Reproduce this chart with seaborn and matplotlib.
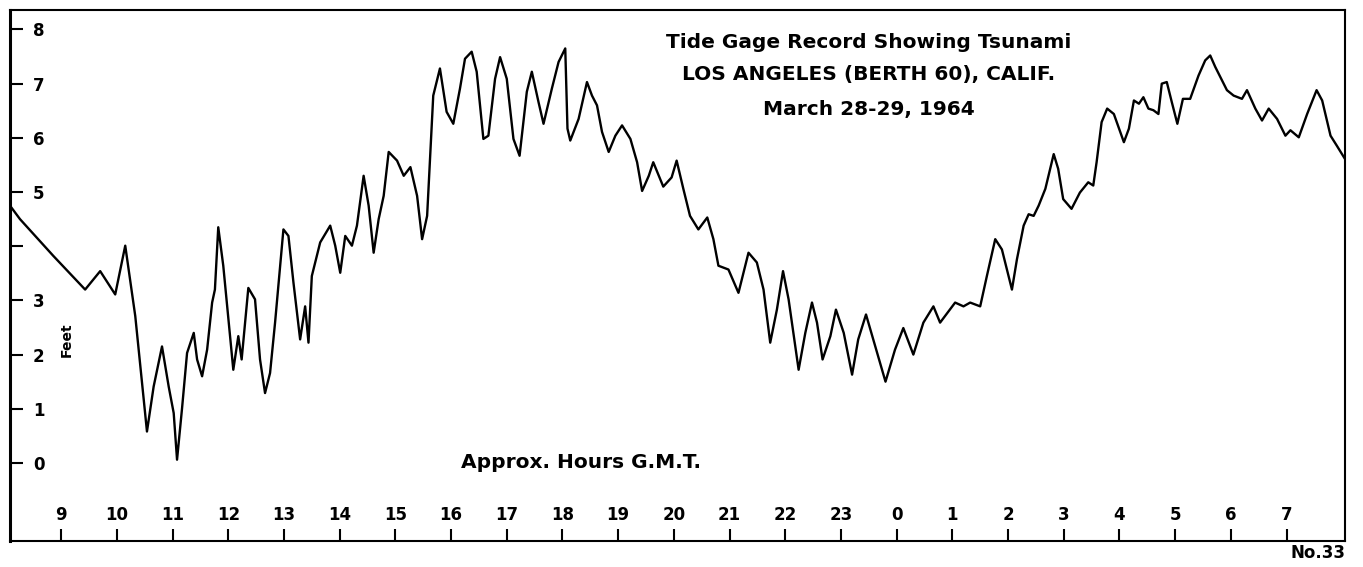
import matplotlib
matplotlib.use("Agg")
import matplotlib.pyplot as plt
import seaborn as sns
import pandas as pd

# Time in hours since 0h GMT, March 28 1964 (24+ = March 29)
hours = [8.08, 8.26, 8.86, 9.43, 9.70, 9.97, 10.15, 10.33, 10.54, 10.66, 10.81, 10.93,
         11.02, 11.08, 11.17, 11.26, 11.38, 11.44, 11.53, 11.62, 11.71, 11.76, 11.82, 11.91,
         12.09, 12.18, 12.24, 12.36, 12.48, 12.57, 12.66, 12.75, 12.84, 12.99, 13.08, 13.17,
         13.29, 13.38, 13.44, 13.50, 13.65, 13.83, 13.92, 14.01, 14.10, 14.22, 14.31, 14.43,
         14.52, 14.61, 14.70, 14.79, 14.88, 15.03, 15.15, 15.27, 15.39, 15.48, 15.57, 15.68,
         15.80, 15.92, 16.04, 16.16, 16.25, 16.37, 16.46, 16.58, 16.67, 16.79, 16.88, 17.00,
         17.12, 17.23, 17.36, 17.45, 17.57, 17.66, 17.81, 17.93, 18.05, 18.09, 18.14, 18.29,
         18.44, 18.53, 18.62, 18.71, 18.83, 18.95, 19.07, 19.22, 19.34, 19.43, 19.55, 19.63,
         19.81, 19.96, 20.05, 20.17, 20.29, 20.44, 20.60, 20.71, 20.80, 20.98, 21.16, 21.34,
         21.49, 21.61, 21.73, 21.85, 21.96, 22.06, 22.24, 22.36, 22.48, 22.57, 22.67, 22.81,
         22.91, 23.05, 23.20, 23.31, 23.45, 23.58, 23.80, 23.97, 24.12, 24.30, 24.48, 24.66,
         24.78, 25.05, 25.20, 25.32, 25.50, 25.62, 25.77, 25.89, 26.07, 26.16, 26.28, 26.37,
         26.46, 26.55, 26.67, 26.82, 26.90, 26.99, 27.14, 27.29, 27.44, 27.53, 27.59, 27.68,
         27.78, 27.90, 28.08, 28.17, 28.26, 28.35, 28.43, 28.52, 28.61, 28.70, 28.76, 28.85,
         28.94, 29.04, 29.14, 29.27, 29.42, 29.54, 29.63, 29.72, 29.93, 30.05, 30.20, 30.29,
         30.44, 30.56, 30.68, 30.83, 30.98, 31.07, 31.22, 31.37, 31.54, 31.64, 31.79, 31.90,
         32.05]

feet = [4.75, 4.50, 3.82, 3.20, 3.54, 3.11, 4.01, 2.71, 0.58, 1.41, 2.15, 1.41,
        0.92, 0.06, 1.01, 2.03, 2.40, 1.91, 1.60, 2.09, 2.96, 3.20, 4.35, 3.64,
        1.72, 2.34, 1.91, 3.23, 3.02, 1.91, 1.29, 1.66, 2.59, 4.31, 4.19, 3.33,
        2.28, 2.89, 2.22, 3.45, 4.07, 4.38, 4.01, 3.51, 4.19, 4.01, 4.38, 5.30,
        4.75, 3.88, 4.50, 4.93, 5.74, 5.58, 5.30, 5.46, 4.93, 4.13, 4.56, 6.78,
        7.28, 6.48, 6.26, 6.91, 7.46, 7.59, 7.22, 5.98, 6.04, 7.09, 7.49, 7.09,
        5.98, 5.67, 6.85, 7.22, 6.66, 6.26, 6.91, 7.40, 7.65, 6.17, 5.95, 6.35,
        7.03, 6.78, 6.60, 6.11, 5.74, 6.04, 6.23, 5.98, 5.55, 5.02, 5.30, 5.55,
        5.10, 5.27, 5.58, 5.06, 4.56, 4.31, 4.53, 4.13, 3.64, 3.57, 3.14, 3.88,
        3.70, 3.20, 2.22, 2.83, 3.54, 3.02, 1.72, 2.40, 2.96, 2.59, 1.91, 2.34,
        2.83, 2.40, 1.63, 2.28, 2.74, 2.28, 1.50, 2.09, 2.49, 2.00, 2.59, 2.89,
        2.59, 2.96, 2.89, 2.96, 2.89, 3.45, 4.13, 3.94, 3.20, 3.76, 4.38, 4.59,
        4.56, 4.75, 5.06, 5.70, 5.43, 4.87, 4.69, 4.99, 5.18, 5.12, 5.55, 6.29,
        6.54, 6.44, 5.92, 6.17, 6.69, 6.63, 6.75, 6.54, 6.51, 6.44, 7.00, 7.03,
        6.66, 6.26, 6.72, 6.72, 7.15, 7.43, 7.52, 7.31, 6.88, 6.78, 6.72, 6.88,
        6.54, 6.32, 6.54, 6.35, 6.04, 6.14, 6.01, 6.44, 6.88, 6.69, 6.04, 5.86,
        5.61]

xtick_pos = list(range(9, 32))
xtick_labels = ["9", "10", "11", "12", "13", "14", "15", "16", "17", "18", "19", "20",
                "21", "22", "23", "0", "1", "2", "3", "4", "5", "6", "7"]
ytick_pos = [0, 1, 2, 3, 4, 5, 6, 7, 8]
ytick_labels = ["0", "1", "2", "3", "", "5", "6", "7", "8"]

title_lines = ["Tide Gage Record Showing Tsunami",
               "LOS ANGELES (BERTH 60), CALIF.",
               "March 28-29, 1964"]

sns.set_style("white")
plt.rcParams["font.family"] = ["DejaVu Sans"]

df = pd.DataFrame({"hour": hours, "feet": feet})

fig = plt.figure(figsize=(13.63, 5.67), dpi=100)
ax = fig.add_axes([0.0073, 0.0459, 0.9795, 0.9365])

sns.lineplot(data=df, x="hour", y="feet", sort=False, estimator=None,
             color="black", linewidth=1.7, ax=ax)

ax.set_xlim(8.08, 32.05)
ax.set_ylim(-1.44, 8.36)

for s in ax.spines.values():
    s.set_visible(True)
    s.set_color("black")
    s.set_linewidth(1.5)
ax.spines["left"].set_linewidth(2.2)

ax.set_xticks(xtick_pos)
ax.set_xticklabels(xtick_labels)
ax.set_yticks(ytick_pos)
ax.set_yticklabels(ytick_labels)

ax.tick_params(axis="x", direction="in", length=9, width=1.5, pad=-25,
               labelsize=12, colors="black", bottom=True, top=False)
ax.tick_params(axis="y", direction="in", length=9, width=1.5, pad=-16.5,
               labelsize=12, colors="black", left=True, right=False)
for t in ax.get_xticklabels():
    t.set_fontweight("bold")
for t in ax.get_yticklabels():
    t.set_fontweight("bold")
    t.set_horizontalalignment("left")

ax.set_xlabel("")
ax.set_ylabel("")

ys = [0.938, 0.878, 0.812]
for line, yy in zip(title_lines, ys):
    ax.text(0.643, yy, line, transform=ax.transAxes, ha="center", va="center",
            fontsize=14.5, fontweight="bold", color="black")

ax.text(0.428, 0.147, "Approx. Hours G.M.T.", transform=ax.transAxes,
        ha="center", va="center", fontsize=14.5, fontweight="bold", color="black")
ax.text(0.0427, 0.379, "Feet", transform=ax.transAxes, rotation=90,
        ha="center", va="center", fontsize=10, fontweight="bold", color="black")
fig.text(0.987, 0.0247, "No.33", ha="right", va="center",
         fontsize=12, fontweight="bold", color="black")

fig.savefig("out.png", dpi=100, facecolor="white")
